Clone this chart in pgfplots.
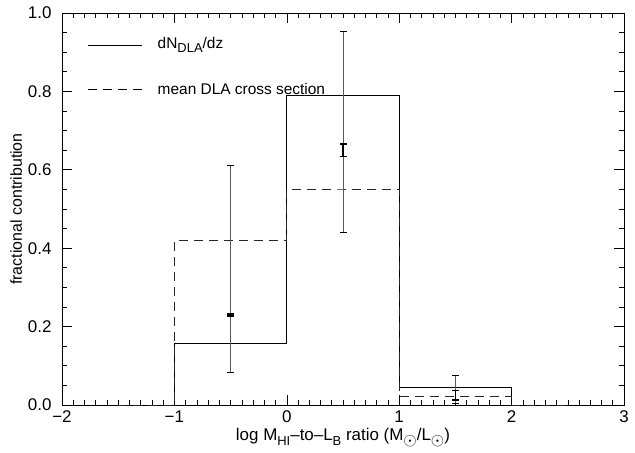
\documentclass[border=0pt]{standalone}
\usepackage{pgfplots}
\pgfplotsset{compat=1.18}
\usepackage{fontspec}
\setmainfont{Liberation Sans}
\begin{document}
\begin{tikzpicture}
\begin{axis}[
  at={(0,0)}, anchor=south west,
  scale only axis, width=562bp, height=392bp,
  xmin=-2, xmax=3, ymin=0, ymax=1,
  xtick={-2,-1,0,1,2,3},
  xticklabels={−2,−1,0,1,2,3},
  ytick={0,0.2,0.4,0.6,0.8,1.0},
  yticklabels={0.0,0.2,0.4,0.6,0.8,1.0},
  minor x tick num=9, minor y tick num=3,
  major tick length=10bp, minor tick length=5bp,
  tick align=inside,
  tick style={black, line width=0.6bp},
  axis line style={line width=0.8bp},
  ticklabel style={font=\fontsize{17}{19}\selectfont},
  xticklabel style={yshift=-2bp},
  yticklabel style={xshift=-7bp},
  label style={font=\fontsize{16}{18}\selectfont},
  xlabel={log M\raisebox{-0.5ex}{\fontsize{13}{15}\selectfont HI}–to–L\raisebox{-0.5ex}{\fontsize{13}{15}\selectfont B} ratio (M\raisebox{-0.5ex}{$\odot$}/L\raisebox{-0.5ex}{$\odot$})},
  ylabel={fractional contribution},
  xlabel style={yshift=1bp, font=\fontsize{17}{19}\selectfont},
  ylabel style={yshift=-1bp},
  unbounded coords=jump,
  clip=false,
]
% dN_DLA/dz histogram
\addplot[black, line width=0.8bp, const plot mark mid] coordinates {
  (-1.5,0) (-0.5,0.158) (0.5,0.789) (1.5,0.045) (2.5,0)
};
% mean DLA cross section histogram
\addplot[black!85, line width=0.8bp, dash pattern=on 9bp off 6bp, const plot mark mid] coordinates {
  (-1.5,0) (-0.5,0.419) (0.5,0.551) (1.5,0.022) (2.5,0)
};
% large error bars (vertical segments with caps)
\addplot[black!65, line width=0.9bp, mark=-, mark size=3.5bp, mark options={black, line width=0.8bp}] coordinates {
  (-0.5,0.083) (-0.5,0.61) (-0.5,nan)
  (0.5,0.441) (0.5,0.952) (0.5,nan)
  (1.5,0.003) (1.5,0.075)
};
% small error bars
\addplot[black, line width=1.3bp, mark=-, mark size=3.5bp, mark options={black, line width=1.2bp}] coordinates {
  (-0.5,0.227) (-0.5,0.232) (-0.5,nan)
  (0.5,0.633) (0.5,0.666) (0.5,nan)
  (1.5,0.013) (1.5,0.036)
};
% legend
\draw[black, line width=0.8bp] (axis cs:-1.77,0.918) -- (axis cs:-1.29,0.918);
\node[anchor=west, inner sep=0pt, font=\fontsize{15.5}{18}\selectfont] at (axis cs:-1.15,0.918) {dN\raisebox{-0.5ex}{\fontsize{13}{15}\selectfont DLA}/dz};
\draw[black, line width=0.8bp, dash pattern=on 9bp off 6bp] (axis cs:-1.77,0.804) -- (axis cs:-1.29,0.804);
\node[anchor=west, inner sep=0pt, font=\fontsize{15.5}{18}\selectfont] at (axis cs:-1.15,0.806) {mean DLA cross section};
\end{axis}
\path[use as bounding box] (-62bp,-48bp) rectangle (573bp,405bp);
\end{tikzpicture}
\end{document}
